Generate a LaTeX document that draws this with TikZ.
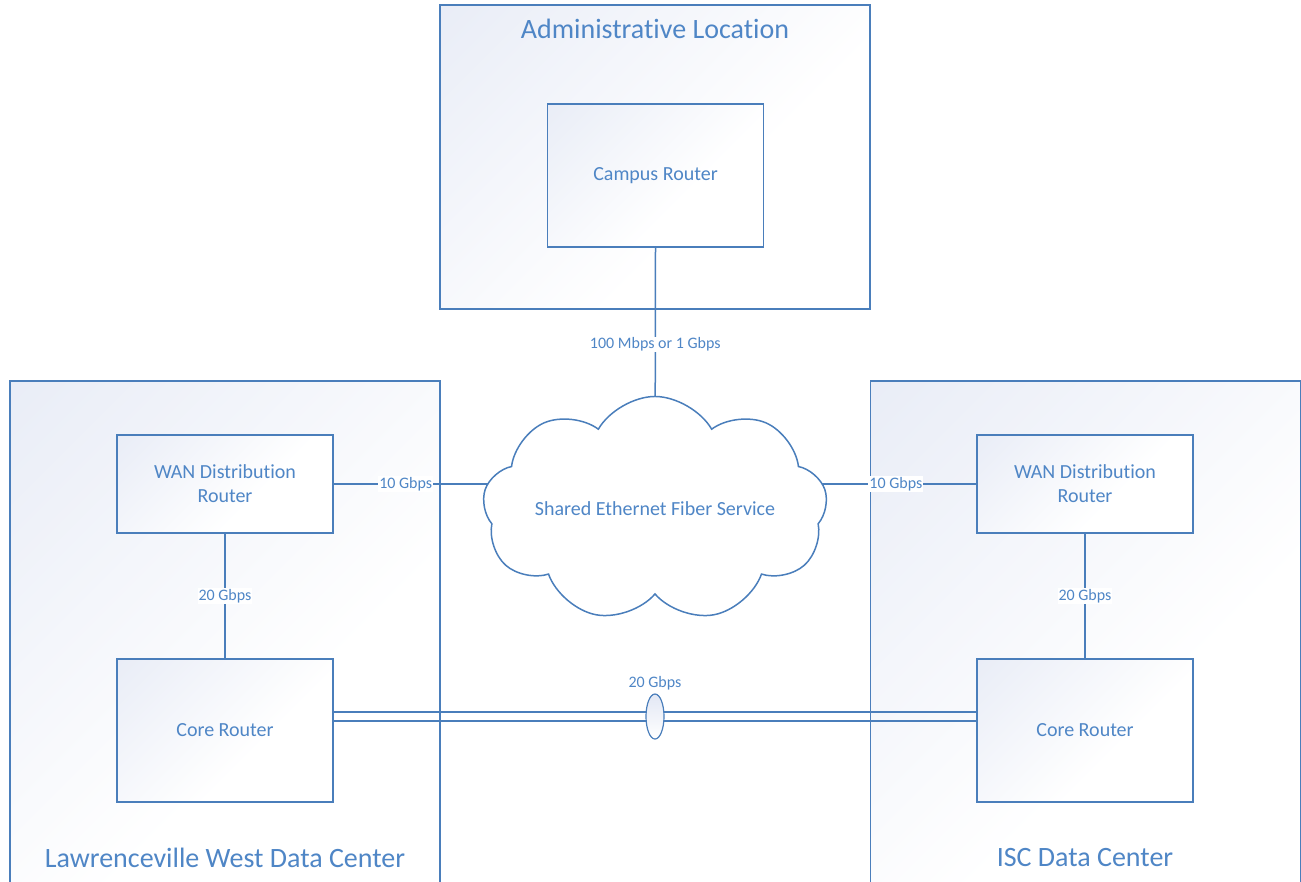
\documentclass[tikz,border=0pt]{standalone}
\usepackage{fontspec}
\setmainfont{Carlito}[Ligatures=NoCommon]
\usepackage{tikz}
\usetikzlibrary{shapes.geometric, shapes.symbols, positioning}
\definecolor{lineBlue}{RGB}{74,126,187}
\definecolor{textBlue}{RGB}{79,134,198}
\definecolor{shadeBlue}{RGB}{226,231,244}
\pgfdeclarelayer{front}
\pgfsetlayers{main,front}
\pgfdeclareverticalshading{siteFade}{100bp}{color(0bp)=(white); color(40bp)=(white); color(100bp)=(shadeBlue)}
\tikzstyle{siteBox} = [rectangle, draw=lineBlue, line width=1.5pt, shading=siteFade, shading angle=45, minimum width=430pt]
\tikzstyle{recNode} = [rectangle, draw=lineBlue, line width=1.5pt, shading=siteFade, shading angle=45, minimum width=216pt, text=textBlue, align=center, font=\fontsize{20}{24}\selectfont]
\tikzstyle{fiberCloud} = [cloud, cloud puffs=9, cloud puff arc=120, aspect=1.95, inner sep=-3pt, draw=lineBlue, line width=1.5pt, fill=white, text=textBlue, font=\fontsize{20}{24}\selectfont]
\tikzstyle{siteTitle} = [text=textBlue, font=\fontsize{28}{32}\selectfont]
\tikzstyle{link} = [draw=lineBlue, line width=1.5pt]
\tikzstyle{thinLink} = [draw=lineBlue, line width=1.2pt]
\tikzstyle{speed} = [fill=white, text=textBlue, inner sep=1pt, font=\fontsize{16}{18}\selectfont]

\begin{document}
\begin{tikzpicture}[x=1pt, y=-1pt, node distance=246.5pt]
    \useasboundingbox (0,0) rectangle (1301,881);
    % sites
    \node (admin) [siteBox, minimum height=304pt] at (655,157) {};
    \node (lwdc) [siteBox, minimum height=519pt] at (225,640.5) {};
    \node (iscdc) [siteBox, minimum height=519pt] at (1085.5,640.5) {};
    \node (adminTitle) [siteTitle] at ([yshift=-25pt]admin.north) {Administrative Location};

    % routers
    \node (campus) [recNode, minimum height=143pt] at (655.5,175.5) {Campus Router};
    \node (lwan) [recNode, minimum height=98pt] at (225,484) {WAN Distribution\\Router};
    \node (lcore) [recNode, minimum height=143pt, below of=lwan] {Core Router};
    \node (rwan) [recNode, minimum height=98pt] at (1085,484) {WAN Distribution\\Router};
    \node (rcore) [recNode, minimum height=143pt, below of=rwan] {Core Router};
    \node (lwdcTitle) [siteTitle] at ([yshift=-55pt]lcore.south) {Lawrenceville West Data Center};
    \node (iscTitle) [siteTitle] at ([yshift=-55pt]rcore.south) {ISC Data Center};

    \begin{pgfonlayer}{front}
    \node (fiber) [fiberCloud] at (655,509) {Shared Ethernet Fiber Service};
    \end{pgfonlayer}

    % links
    \draw [link] (campus.south) -- node[speed, pos=0.37] (lblCampus) {100 Mbps or 1 Gbps} (fiber.center);
    \draw [link] (lwan.east) -- node[speed, pos=0.224] (lblLwan) {10 Gbps} (lwan.east -| fiber.center);
    \draw [link] (rwan.west) -- node[speed, pos=0.25] (lblRwan) {10 Gbps} (rwan.west -| fiber.center);
    \draw [link] (lwan) -- node[speed] (lblLup) {20 Gbps} (lcore);
    \draw [link] (rwan) -- node[speed] (lblRup) {20 Gbps} (rcore);

    \draw [thinLink] ([yshift=18.5pt]lcore.east) -- ([yshift=18.5pt]rcore.west);
    \draw [thinLink] ([yshift=9.5pt]lcore.east) -- ([yshift=9.5pt]rcore.west);
    \node (bundle) [ellipse, draw=lineBlue, line width=1.2pt, top color=shadeBlue, bottom color=white, minimum width=18pt, minimum height=45pt, inner sep=0pt] at (655,716.5) {};
    \node (lblBundle) [speed, fill=none, above=2pt of bundle] {20 Gbps};
\end{tikzpicture}
\end{document}
